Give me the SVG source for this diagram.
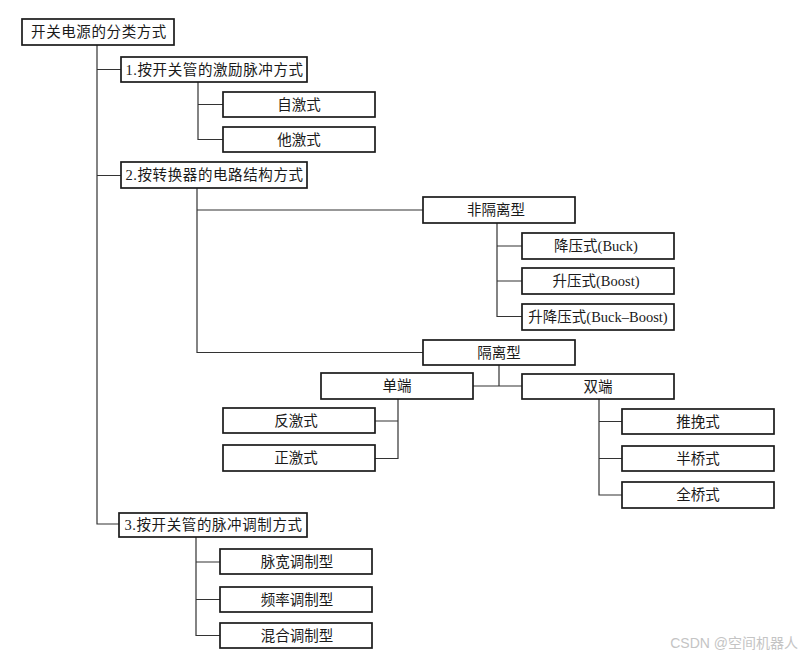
<svg xmlns="http://www.w3.org/2000/svg" width="810" height="659" viewBox="0 0 810 659">
<style>
.box{fill:#fff;stroke:#1a1a1a;stroke-width:1.7}
.t{font-family:"Liberation Serif","Noto Sans CJK SC",serif;font-size:14.5px;fill:#1a1a1a;text-anchor:middle}
.h{letter-spacing:0.6px}
.c{fill:none;stroke:#333;stroke-width:1.2}
.wm{font-family:"Liberation Sans","Noto Sans CJK SC",sans-serif;font-size:14px;fill:#c4c4c4;text-anchor:end}
</style>
<rect width="810" height="659" fill="#fff"/>
<g id="connectors">
<path class="c" d="M97 45V524H119M97 69.5H121M97 175.5H121"/>
<path class="c" d="M198 82V139.5H223M198 104.5H223"/>
<path class="c" d="M197 188V352.5H423M197 210H423"/>
<path class="c" d="M497 223V316.5H522M497 246H522M497 281H522"/>
<path class="c" d="M499 365V386M473 386H522"/>
<path class="c" d="M398 399V458.5H375M398 421H375"/>
<path class="c" d="M599 399V495H622M599 421.5H622M599 458.5H622"/>
<path class="c" d="M196 537V635.5H220M196 562H220M196 599.5H220"/>
</g>
<g id="root"><rect class="box" x="22" y="19" width="152" height="26"/><text class="t h" x="99" y="37">开关电源的分类方式</text></g>
<g id="n1"><rect class="box" x="121" y="57" width="186" height="25"/><text class="t h" x="214.5" y="74.5">1.按开关管的激励脉冲方式</text></g>
<g id="n1a"><rect class="box" x="223" y="92" width="152" height="25"/><text class="t" x="299" y="109.5">自激式</text></g>
<g id="n1b"><rect class="box" x="223" y="127" width="152" height="25"/><text class="t" x="299" y="144.5">他激式</text></g>
<g id="n2"><rect class="box" x="121" y="162" width="186" height="26"/><text class="t h" x="214.5" y="180">2.按转换器的电路结构方式</text></g>
<g id="n2a"><rect class="box" x="423" y="197" width="152" height="26"/><text class="t" x="496" y="215">非隔离型</text></g>
<g id="buck"><rect class="box" x="522" y="233" width="152" height="26"/><text class="t" x="596" y="251">降压式(Buck)</text></g>
<g id="boost"><rect class="box" x="522" y="268" width="152" height="26"/><text class="t" x="596" y="286">升压式(Boost)</text></g>
<g id="buckboost"><rect class="box" x="522" y="304" width="152" height="26"/><text class="t" x="598" y="322">升降压式(Buck–Boost)</text></g>
<g id="iso"><rect class="box" x="423" y="340" width="152" height="25"/><text class="t" x="499" y="357.5">隔离型</text></g>
<g id="single"><rect class="box" x="321" y="373" width="152" height="26"/><text class="t" x="397" y="391">单端</text></g>
<g id="double"><rect class="box" x="522" y="374" width="152" height="25"/><text class="t" x="598" y="391.5">双端</text></g>
<g id="flyback"><rect class="box" x="223" y="408" width="152" height="25"/><text class="t" x="296" y="425.5">反激式</text></g>
<g id="forward"><rect class="box" x="223" y="445" width="152" height="26"/><text class="t" x="296" y="463">正激式</text></g>
<g id="pushpull"><rect class="box" x="622" y="409" width="152" height="25"/><text class="t" x="698" y="426.5">推挽式</text></g>
<g id="halfbridge"><rect class="box" x="622" y="446" width="152" height="25"/><text class="t" x="698" y="463.5">半桥式</text></g>
<g id="fullbridge"><rect class="box" x="622" y="482" width="152" height="26"/><text class="t" x="698" y="500">全桥式</text></g>
<g id="n3"><rect class="box" x="119" y="513" width="188" height="24"/><text class="t h" x="213.5" y="530">3.按开关管的脉冲调制方式</text></g>
<g id="pwm"><rect class="box" x="220" y="549" width="152" height="25"/><text class="t" x="297" y="566.5">脉宽调制型</text></g>
<g id="pfm"><rect class="box" x="220" y="587" width="152" height="25"/><text class="t" x="297" y="604.5">频率调制型</text></g>
<g id="mixed"><rect class="box" x="220" y="623" width="152" height="25"/><text class="t" x="297" y="640.5">混合调制型</text></g>
<text class="wm" x="798" y="648">CSDN @空间机器人</text>
</svg>
